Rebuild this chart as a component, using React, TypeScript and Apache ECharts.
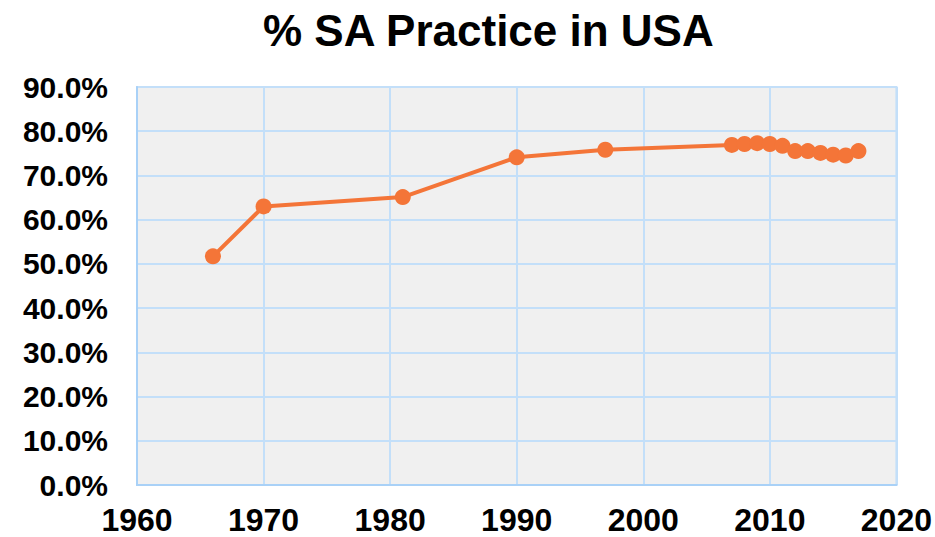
import React, { useEffect, useRef } from "react";
import * as echarts from "echarts";

const years = [1966, 1970, 1981, 1990, 1997, 2007, 2008, 2009, 2010, 2011, 2012, 2013, 2014, 2015, 2016, 2017];
const shares = [0.517, 0.630, 0.651, 0.741, 0.758, 0.769, 0.771, 0.773, 0.771, 0.767, 0.755, 0.755, 0.751, 0.747, 0.745, 0.755];
const title = "% SA Practice in USA";

export default function App() {
  const ref = useRef<HTMLDivElement>(null);
  useEffect(() => {
    if (!ref.current) return;
    const chart = echarts.init(ref.current, undefined, { renderer: "svg" });
    const font = "'Liberation Sans', Arial, sans-serif";
    chart.setOption({
      animation: false,
      backgroundColor: "#ffffff",
      title: {
        text: title,
        left: 258,
        top: 3,
        textStyle: { fontFamily: font, fontWeight: "bold", fontSize: 44, color: "#000" },
      },
      grid: {
        left: 137,
        right: 38,
        top: 87,
        bottom: 52,
        show: true,
        backgroundColor: "#F0F0F0",
        borderColor: "#C3DFF9",
        borderWidth: 2,
      },
      xAxis: {
        type: "value",
        min: 1960,
        max: 2020,
        interval: 10,
        axisLine: { show: true, lineStyle: { color: "#A9D1F7", width: 2 } },
        axisTick: { show: false },
        splitLine: { show: true, lineStyle: { color: "#C3DFF9", width: 2 } },
        axisLabel: {
          fontFamily: font,
          fontWeight: "bold",
          fontSize: 32,
          color: "#000",
          margin: 19,
          formatter: (v: number) => String(v),
        },
      },
      yAxis: {
        type: "value",
        min: 0,
        max: 0.9,
        interval: 0.1,
        axisLine: { show: true, lineStyle: { color: "#A9D1F7", width: 2 } },
        axisTick: { show: false },
        splitLine: { show: true, lineStyle: { color: "#C3DFF9", width: 2 } },
        axisLabel: {
          fontFamily: font,
          fontWeight: "bold",
          fontSize: 30,
          color: "#000",
          margin: 29,
          formatter: (v: number) => (v * 100).toFixed(1) + "%",
        },
      },
      series: [
        {
          type: "line",
          data: years.map((y, i) => [y, shares[i]]),
          symbol: "circle",
          symbolSize: 16,
          lineStyle: { color: "#F47538", width: 4 },
          itemStyle: { color: "#F47538" },
        },
      ],
    });
    return () => chart.dispose();
  }, []);
  return (
    <div
      ref={ref}
      style={{ position: "fixed", left: 0, top: 0, width: 935, height: 537 }}
    />
  );
}
